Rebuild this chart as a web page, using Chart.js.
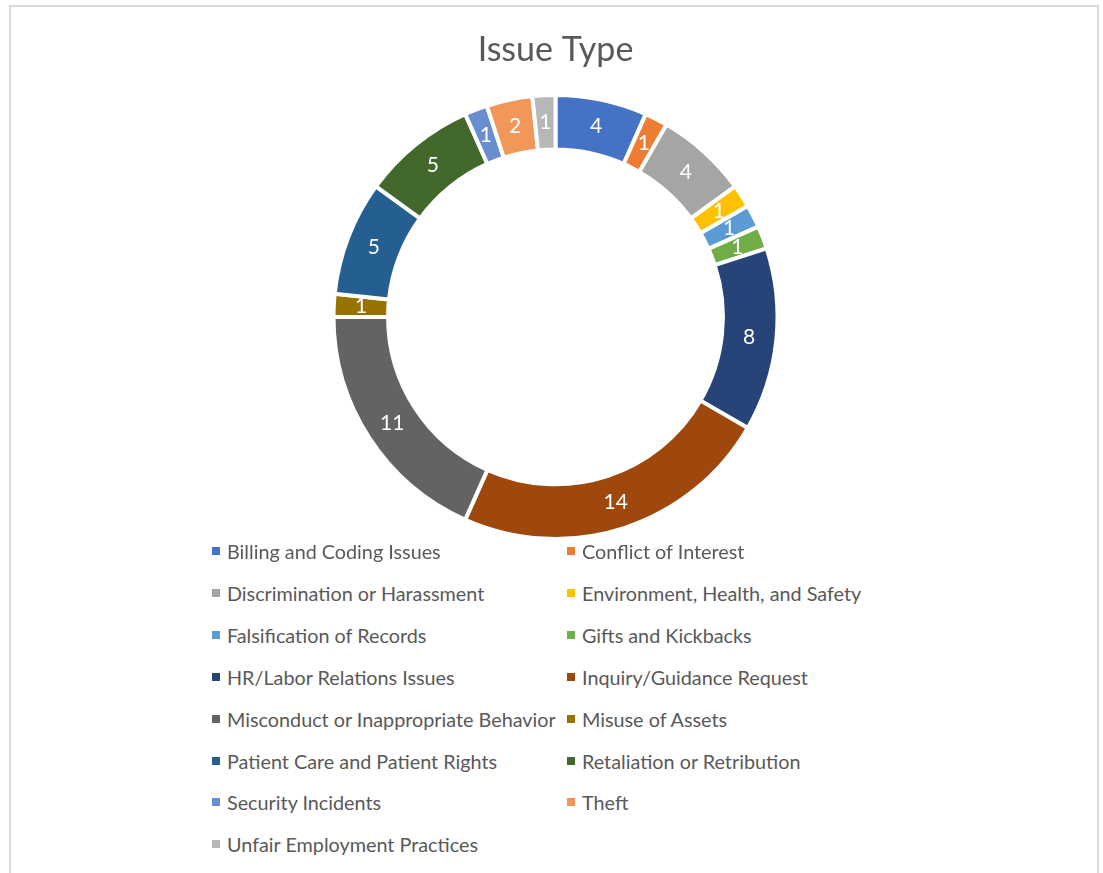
<!DOCTYPE html>
<html>
<head>
<meta charset="utf-8">
<script src="https://cdn.jsdelivr.net/npm/chart.js@4"></script>
<style>
  body { margin: 0; background: #fff; font-family: Lato, 'Open Sans', sans-serif; }
  .frame {
    position: absolute; left: 9px; top: 5px; width: 1090px; height: 900px;
    border: 2px solid #d9d9d9; border-bottom: none; box-sizing: border-box;
  }
  .wrap { position: absolute; left: 0; top: 0; width: 1103px; height: 545px; }
  .legend { position: absolute; left: 0; top: 0; width: 1103px; }
  .legend-item {
    position: absolute; display: flex; align-items: center;
    font-size: 19.8px; color: #595959; white-space: nowrap; height: 30px;
  }
  .legend-item span.box { width: 8px; height: 8px; margin-right: 7px; display: inline-block; }
</style>
</head>
<body>
<div class="frame"></div>
<div class="wrap"><canvas id="issueChart"></canvas></div>
<div class="legend" id="legend"></div>
<script>
const issueTypes = [
  'Billing and Coding Issues', 'Conflict of Interest', 'Discrimination or Harassment',
  'Environment, Health, and Safety', 'Falsification of Records', 'Gifts and Kickbacks',
  'HR/Labor Relations Issues', 'Inquiry/Guidance Request', 'Misconduct or Inappropriate Behavior',
  'Misuse of Assets', 'Patient Care and Patient Rights', 'Retaliation or Retribution',
  'Security Incidents', 'Theft', 'Unfair Employment Practices'
]
const issueCounts = [4, 1, 4, 1, 1, 1, 8, 14, 11, 1, 5, 5, 1, 2, 1]
const sliceColors = [
  '#4472C4', '#ED7D31', '#A5A5A5', '#FFC000', '#5B9BD5', '#70AD47',
  '#264478', '#9E480E', '#636363', '#997300', '#255E91', '#43682B',
  '#698ED0', '#F1975A', '#B7B7B7'
]

// white numbers in the middle of each ring segment
const sliceLabels = {
  id: 'sliceLabels',
  afterDatasetsDraw(chart) {
    const { ctx } = chart
    const meta = chart.getDatasetMeta(0)
    ctx.save()
    ctx.fillStyle = '#ffffff'
    ctx.font = '21px Lato'
    ctx.textAlign = 'center'
    ctx.textBaseline = 'middle'
    meta.data.forEach((arc, i) => {
      const pos = arc.tooltipPosition()
      ctx.fillText(chart.data.datasets[0].data[i], pos.x, pos.y)
    })
    ctx.restore()
  },
}

const canvas = document.getElementById('issueChart')

const issueChart = new Chart(canvas, {
  type: 'doughnut',
  data: {
    labels: issueTypes,
    datasets: [
      {
        label: 'Issue Type',
        data: issueCounts,
        backgroundColor: sliceColors,
        borderColor: '#ffffff',
        borderWidth: 4,
      },
    ],
  },
  options: {
    responsive: true,
    maintainAspectRatio: false,
    animation: false,
    radius: 222,
    cutout: 166,
    layout: { padding: { left: 8, right: 0, top: 0, bottom: 6 } },
    plugins: {
      legend: { display: false },
      tooltip: { enabled: false },
      title: {
        display: true,
        text: 'Issue Type',
        color: '#595959',
        font: { family: 'Lato', size: 34, weight: 'normal' },
        padding: { top: 30, bottom: 24 },
      },
    },
  },
  plugins: [sliceLabels],
})

// legend in two columns, like the original
const legend = document.getElementById('legend')
issueTypes.forEach((name, i) => {
  const item = document.createElement('div')
  item.className = 'legend-item'
  item.style.left = (i % 2 === 0 ? 212 : 567) + 'px'
  item.style.top = (551 + Math.floor(i / 2) * 41.9 - 15) + 'px'
  const box = document.createElement('span')
  box.className = 'box'
  box.style.background = sliceColors[i]
  item.append(box, document.createTextNode(name))
  legend.append(item)
})
</script>
</body>
</html>
